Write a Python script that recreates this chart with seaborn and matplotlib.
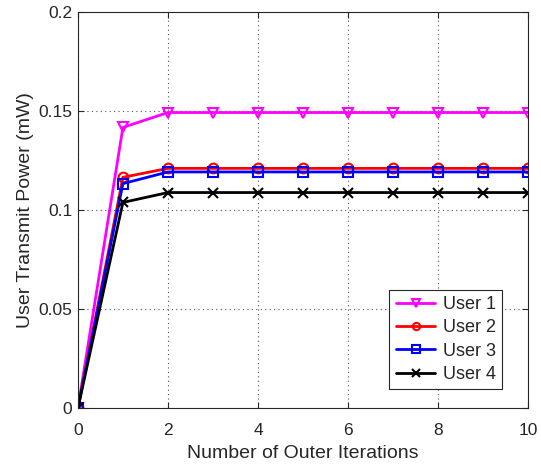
import matplotlib
matplotlib.use("Agg")
import matplotlib.pyplot as plt
import seaborn as sns
import pandas as pd

iterations = list(range(0, 11))
user1 = [0, 0.1418] + [0.1493] * 9
user2 = [0, 0.1166] + [0.1211] * 9
user3 = [0, 0.1134] + [0.1193] * 9
user4 = [0, 0.1039] + [0.1089] * 9
labels = ["User 1", "User 2", "User 3", "User 4"]
colors = ["#ff00ff", "#ff0000", "#0000ff", "#000000"]
markers = ["v", "o", "s", "x"]

sns.set_style("ticks")
plt.rcParams["font.family"] = ["Liberation Sans", "DejaVu Sans"]

fig = plt.figure(figsize=(5.41, 4.66), dpi=100)
ax = fig.add_axes([0.144, 0.124, 0.832, 0.85])

for vals, lab, col, mk in zip([user1, user2, user3, user4], labels, colors, markers):
    df = pd.DataFrame({"x": iterations, "y": vals})
    sns.lineplot(data=df, x="x", y="y", ax=ax, color=col, marker=mk,
                 markersize=7, markerfacecolor="none", markeredgecolor=col,
                 markeredgewidth=1.5, linewidth=2, label=lab)

ax.set_xlim(0, 10)
ax.set_ylim(0, 0.2)
ax.set_xticks([0, 2, 4, 6, 8, 10])
ax.set_yticks([0, 0.05, 0.1, 0.15, 0.2])
ax.set_yticklabels(["0", "0.05", "0.1", "0.15", "0.2"])
ax.grid(True, linestyle=(0, (1, 3)), color="#262626", linewidth=0.8, alpha=0.8)
ax.tick_params(direction="in", length=4, labelsize=12.5, colors="#262626",
               top=True, right=True)
ax.tick_params(axis="x", pad=11)
ax.tick_params(axis="y", pad=4)
for s in ax.spines.values():
    s.set_linewidth(0.8)
    s.set_color("#262626")
ax.set_xlabel("Number of Outer Iterations", fontsize=14, labelpad=5)
ax.set_ylabel("User Transmit Power (mW)", fontsize=14, labelpad=3)
leg = ax.legend(loc="lower right", fontsize=13, frameon=True, fancybox=False,
                edgecolor="#262626", framealpha=1, handlelength=2.2,
                markerscale=0.75, borderaxespad=0, labelspacing=0.35,
                handletextpad=0.4, borderpad=0.35,
                bbox_to_anchor=(0.942, 0.048))
leg.get_frame().set_linewidth(0.8)
fig.savefig("out.png", dpi=100)
